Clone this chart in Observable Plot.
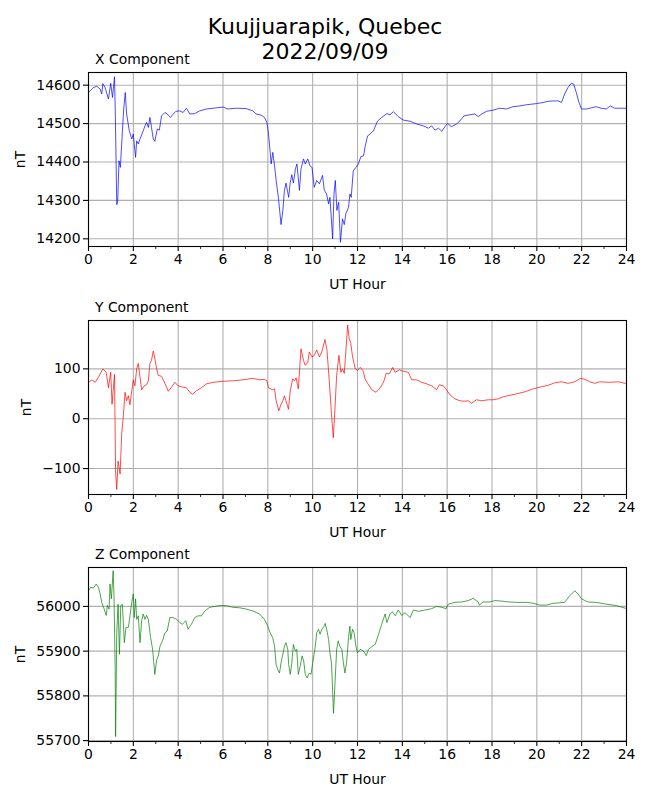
<!DOCTYPE html>
<html>
<head>
<meta charset="utf-8">
<script src="https://cdn.jsdelivr.net/npm/d3@7"></script>
<script src="https://cdn.jsdelivr.net/npm/@observablehq/plot@0.6"></script>
<style>
  html, body { margin: 0; padding: 0; background: #fff; }
  #page { position: relative; width: 650px; height: 800px; font-family: "DejaVu Sans", sans-serif; color: #000; }
  .title { position: absolute; left: 0; top: 14px; width: 650px; text-align: center; font-size: 22px; line-height: 25px; }
  .sub { position: absolute; left: 95px; font-size: 13.9px; line-height: 16px; white-space: nowrap; }
  .panel { position: absolute; left: 0; }
</style>
</head>
<body>
<div id="page">
  <div class="title">Kuujjuarapik, Quebec<br>2022/09/09</div>
</div>
<script>
// ---- Data ----
const titleLines = ["Kuujjuarapik, Quebec", "2022/09/09"];
const panelTitles = ["X Component", "Y Component", "Z Component"];
const hourTicks = [0, 2, 4, 6, 8, 10, 12, 14, 16, 18, 20, 22, 24];
const hourMinorTicks = [1, 3, 5, 7, 9, 11, 13, 15, 17, 19, 21, 23];

const xTicks = [14200, 14300, 14400, 14500, 14600];
const yTicks = [-100, 0, 100];
const zTicks = [55700, 55800, 55900, 56000];

const xHours = [0,0.22,0.37,0.52,0.59,0.64,0.74,0.89,0.99,1.07,1.16,1.2,1.26,1.3,1.36,1.42,1.51,1.57,1.64,1.7,1.82,1.93,2.0,2.04,2.1,2.15,2.22,2.3,2.44,2.52,2.59,2.67,2.74,2.81,2.89,2.96,3.07,3.16,3.26,3.41,3.51,3.66,3.78,3.9,4.07,4.22,4.37,4.52,4.74,4.96,5.26,5.56,6.0,6.22,6.59,7.04,7.33,7.48,7.7,7.85,7.96,8.03,8.1,8.15,8.22,8.3,8.37,8.47,8.59,8.67,8.74,8.81,8.93,8.99,9.07,9.14,9.23,9.3,9.41,9.48,9.59,9.67,9.78,9.88,9.97,10.07,10.18,10.3,10.44,10.52,10.62,10.71,10.77,10.89,10.95,11.01,11.08,11.16,11.24,11.33,11.41,11.48,11.6,11.66,11.72,11.81,11.93,12.04,12.15,12.27,12.34,12.45,12.56,12.71,12.89,13.08,13.31,13.45,13.6,13.82,14.05,14.35,14.64,14.94,15.16,15.31,15.46,15.61,15.76,15.9,16.01,16.2,16.42,16.57,16.75,17.02,17.24,17.39,17.54,17.76,18.05,18.35,18.65,18.94,19.24,19.54,19.98,20.28,20.5,20.72,20.95,21.1,21.24,21.39,21.54,21.64,21.76,21.88,21.99,22.21,22.5,22.65,22.87,23.1,23.28,23.47,23.77,24.0];
const xNT = [14581,14594,14597,14590,14577,14604,14594,14564,14605,14568,14622,14516,14289,14295,14403,14386,14477,14538,14581,14525,14481,14460,14473,14447,14412,14455,14447,14460,14481,14494,14503,14490,14516,14490,14460,14454,14486,14483,14520,14529,14525,14516,14525,14532,14533,14529,14540,14525,14526,14533,14538,14540,14543,14538,14540,14539,14533,14525,14522,14516,14503,14473,14429,14395,14425,14390,14352,14308,14237,14274,14326,14345,14308,14343,14367,14345,14382,14395,14326,14382,14408,14395,14408,14390,14386,14334,14352,14343,14365,14326,14317,14291,14308,14200,14317,14352,14274,14295,14191,14252,14237,14265,14282,14317,14308,14377,14386,14395,14414,14416,14440,14468,14473,14481,14506,14516,14526,14523,14531,14518,14509,14506,14499,14494,14488,14494,14483,14488,14480,14492,14500,14492,14499,14507,14520,14523,14525,14518,14525,14532,14535,14540,14538,14544,14546,14549,14552,14555,14558,14559,14559,14555,14577,14594,14605,14603,14581,14555,14538,14538,14542,14544,14540,14538,14546,14540,14540,14540];

const yHours = [0,0.15,0.3,0.44,0.64,0.79,0.89,0.99,1.05,1.16,1.21,1.26,1.32,1.41,1.48,1.56,1.63,1.7,1.78,1.85,1.93,2.0,2.07,2.15,2.22,2.3,2.37,2.49,2.59,2.67,2.74,2.81,2.89,2.96,3.04,3.11,3.26,3.41,3.56,3.7,3.85,4.0,4.15,4.37,4.52,4.64,4.81,5.04,5.26,5.56,6.0,6.44,6.89,7.33,7.63,7.85,7.96,8.03,8.22,8.3,8.37,8.49,8.59,8.67,8.74,8.81,8.92,9.0,9.11,9.19,9.26,9.36,9.48,9.59,9.67,9.78,9.85,9.97,10.07,10.18,10.3,10.41,10.55,10.64,10.74,10.84,10.92,10.99,11.07,11.17,11.26,11.33,11.41,11.48,11.56,11.63,11.7,11.78,11.9,12.0,12.12,12.24,12.34,12.45,12.64,12.83,13.01,13.16,13.28,13.42,13.57,13.68,13.87,14.05,14.27,14.42,14.64,14.86,15.08,15.31,15.53,15.65,15.83,15.97,16.12,16.34,16.57,16.79,16.94,17.09,17.31,17.54,17.83,18.05,18.28,18.5,18.8,19.1,19.47,19.84,20.21,20.5,20.8,21.1,21.39,21.69,21.94,22.14,22.36,22.58,22.8,23.25,23.62,23.94,24.0];
const yNT = [73,78,73,83,100,93,62,93,29,89,-109,-142,-85,-111,-31,9,53,36,46,28,56,78,66,100,111,83,58,66,68,76,111,117,136,120,100,87,85,71,55,63,73,66,64,62,53,49,56,62,70,73,75,76,78,81,78,79,76,62,58,60,36,16,29,36,46,36,19,56,80,76,82,60,140,117,107,113,134,124,127,138,124,134,159,137,76,9,-38,16,87,127,93,100,91,134,188,161,151,124,100,97,103,97,80,71,58,53,62,73,91,90,103,93,98,95,93,78,78,73,70,66,58,68,66,58,48,40,36,35,36,31,38,36,38,38,40,44,47,50,54,60,64,67,72,74,71,74,81,79,74,71,74,73,74,71,71];

const zHours = [0,0.1,0.22,0.34,0.44,0.52,0.59,0.7,0.79,0.84,0.92,0.96,1.02,1.1,1.14,1.19,1.21,1.26,1.32,1.38,1.44,1.51,1.6,1.67,1.78,1.85,1.93,2.0,2.04,2.1,2.15,2.22,2.3,2.37,2.44,2.52,2.59,2.67,2.77,2.86,2.96,3.04,3.11,3.19,3.3,3.41,3.51,3.63,3.78,3.93,4.07,4.19,4.34,4.44,4.59,4.74,4.89,5.04,5.19,5.41,5.63,5.85,6.15,6.44,6.74,7.04,7.33,7.63,7.85,8.0,8.1,8.22,8.3,8.37,8.44,8.52,8.59,8.67,8.74,8.81,8.89,8.93,9.0,9.07,9.14,9.23,9.29,9.36,9.44,9.53,9.6,9.67,9.75,9.85,9.93,10.0,10.1,10.18,10.26,10.33,10.41,10.5,10.56,10.64,10.71,10.77,10.84,10.93,10.99,11.07,11.14,11.21,11.3,11.37,11.44,11.51,11.6,11.66,11.7,11.78,11.85,11.93,12.0,12.12,12.27,12.39,12.49,12.64,12.79,12.94,13.08,13.23,13.31,13.45,13.56,13.68,13.82,13.97,14.12,14.35,14.49,14.72,15.01,15.31,15.53,15.76,15.95,16.05,16.35,16.65,16.94,17.16,17.39,17.43,17.61,17.91,18.13,18.42,18.72,19.1,19.54,19.84,20.13,20.43,20.72,21.02,21.24,21.47,21.69,21.84,21.99,22.28,22.65,23.1,23.54,23.94,24.0];
const zNT = [56035,56043,56041,56050,56043,56028,56009,55994,55980,56002,55994,56050,56017,56080,56017,55859,55709,55941,56005,55893,56002,56005,55919,55953,55953,55979,56009,56028,55975,56017,55971,55979,55919,55968,55983,55971,55980,55971,55930,55904,55848,55881,55889,55911,55923,55941,55945,55975,55975,55971,55964,55960,55968,55949,55960,55975,55979,55979,55990,55998,56000,56002,56002,55998,55997,55994,55990,55983,55971,55956,55941,55930,55911,55870,55859,55851,55874,55893,55911,55919,55904,55870,55848,55874,55915,55900,55904,55848,55866,55889,55878,55848,55840,55851,55848,55874,55904,55941,55949,55938,55949,55955,55962,55945,55926,55896,55874,55761,55821,55904,55923,55911,55904,55874,55851,55874,55930,55956,55926,55949,55941,55911,55896,55904,55900,55890,55904,55910,55915,55938,55960,55983,55964,55983,55988,55979,55992,55980,55986,55975,55992,55989,55992,55995,56000,55998,55995,56005,56009,56010,56013,56018,56010,56003,56010,56010,56013,56012,56010,56009,56009,56007,56003,56003,56007,56008,56009,56024,56035,56028,56017,56010,56009,56005,56002,55996,55996];

// ---- Build panels ----
const panels = [
  {name: panelTitles[0], hours: xHours, values: xNT, ticks: xTicks, domain: [14180, 14633], color: "blue",  top: 72,  yLabelOffset: 73},
  {name: panelTitles[1], hours: yHours, values: yNT, ticks: yTicks, domain: [-152, 197],    color: "red",   top: 320, yLabelOffset: 67},
  {name: panelTitles[2], hours: zHours, values: zNT, ticks: zTicks, domain: [55698, 56087], color: "green", top: 567, yLabelOffset: 73}
];

const page = document.getElementById("page");
const fmt = d3.format("d");

for (const p of panels) {
  const data = p.hours.map((h, i) => ({h, v: p.values[i]}));
  const mt = 10, mb = 50, inner = 174;
  const chart = Plot.plot({
    width: 650,
    height: mt + inner + mb,
    marginLeft: 88,
    marginRight: 24,
    marginTop: mt,
    marginBottom: mb,
    style: {fontFamily: "DejaVu Sans, sans-serif", fontSize: "13.5px", color: "#000", background: "#fff", overflow: "visible"},
    x: {domain: [0, 24]},
    y: {domain: p.domain},
    marks: [
      Plot.gridX(hourTicks, {stroke: "#b0b0b0", strokeOpacity: 1, strokeWidth: 1.1}),
      Plot.gridY(p.ticks, {stroke: "#b0b0b0", strokeOpacity: 1, strokeWidth: 1.1}),
      Plot.line(data, {x: "h", y: "v", stroke: p.color, strokeWidth: 0.7}),
      Plot.frame({stroke: "#000", strokeWidth: 1.1}),
      Plot.axisX(hourTicks, {tickSize: 5, tickPadding: 3, tickFormat: fmt, strokeWidth: 1.1,
        label: "UT Hour", labelAnchor: "center", labelArrow: "none", labelOffset: 42, fontSize: 13.9}),
      Plot.axisX(hourMinorTicks, {tickSize: 3, tickFormat: () => "", strokeWidth: 0.8, label: null}),
      Plot.axisY(p.ticks, {tickSize: 5, tickPadding: 3, tickFormat: fmt, strokeWidth: 1.1,
        label: "nT", labelAnchor: "center", labelArrow: "none", labelOffset: p.yLabelOffset, fontSize: 13.9})
    ]
  });
  chart.classList.add("panel");
  chart.style.top = (p.top - mt) + "px";
  page.appendChild(chart);

  const t = document.createElement("div");
  t.className = "sub";
  t.style.top = (p.top - 21) + "px";
  t.textContent = p.name;
  page.appendChild(t);
}
</script>
</body>
</html>
